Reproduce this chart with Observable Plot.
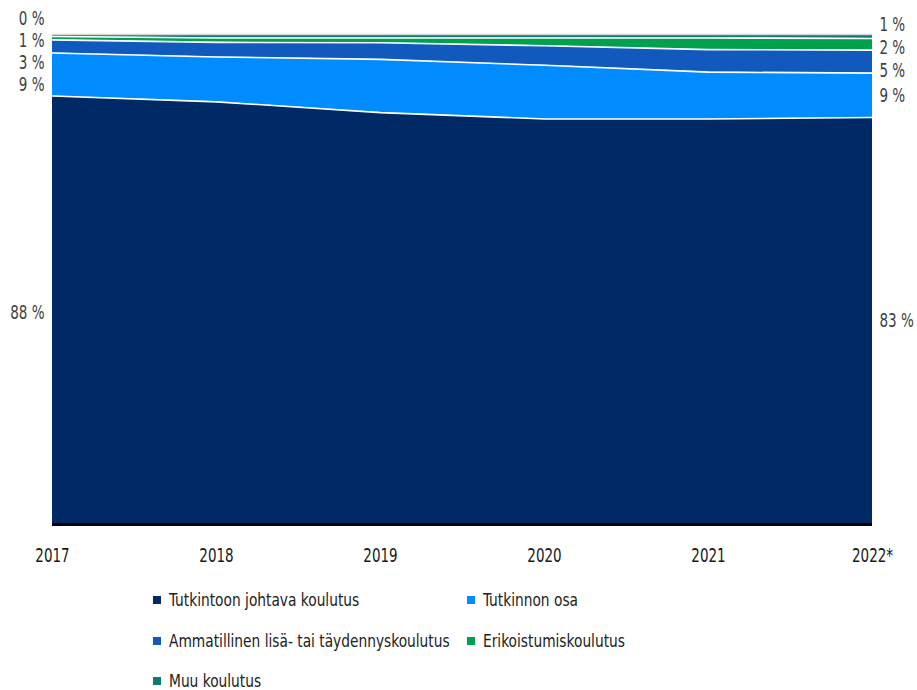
<!DOCTYPE html>
<html>
<head>
<meta charset="utf-8">
<script src="https://cdn.jsdelivr.net/npm/d3@7"></script>
<script src="https://cdn.jsdelivr.net/npm/@observablehq/plot@0.6"></script>
<style>
  body { margin: 0; background: #fff; }
  #chart { width: 917px; font-family: "DejaVu Sans Condensed", "DejaVu Sans", sans-serif; font-stretch: condensed; }
  #chart svg, #chart svg text { font-stretch: condensed; }
  .legend { display: grid; grid-template-columns: 314px auto; grid-auto-rows: 40.5px; margin-left: 153px; padding-top: 5px; }
  .legend .item { display: flex; align-items: center; font-size: 18px; line-height: 16px; color: #222; white-space: nowrap; }
  .legend .sw { width: 8px; height: 8px; margin-right: 8px; flex: none; }
  .legend .txt { display: inline-block; transform: scaleX(0.85); transform-origin: left center; }
</style>
</head>
<body>
<div id="chart"></div>
<script>
// Years on the x axis (2022 is a preliminary figure)
const years = ["2017", "2018", "2019", "2020", "2021", "2022*"];

// Training types, bottom of the stack first
const series = [
  "Tutkintoon johtava koulutus",
  "Tutkinnon osa",
  "Ammatillinen lisä- tai täydennyskoulutus",
  "Erikoistumiskoulutus",
  "Muu koulutus"
];
const colors = ["#002966", "#008cff", "#1259bd", "#00a04c", "#0e7a74"];

// Shares of students per year, %
const tutkintoonJohtava = [87.6, 86.4, 84.2, 82.9, 82.9, 83.2];
const tutkinnonOsa      = [8.8, 9.2, 10.9, 11.0, 9.6, 9.1];
const ammatillinenLisa  = [2.7, 3.0, 3.4, 4.0, 4.6, 4.7];
const erikoistuminen    = [0.7, 0.9, 1.0, 1.6, 2.4, 2.4];
const muuKoulutus       = [0.2, 0.5, 0.5, 0.5, 0.5, 0.6];

const values = [tutkintoonJohtava, tutkinnonOsa, ammatillinenLisa, erikoistuminen, muuKoulutus];

const data = [];
series.forEach((s, i) => years.forEach((y, j) => data.push({year: y, series: s, value: values[i][j]})));

const width = 917, height = 575;
const marginTop = 35, marginBottom = 52, marginLeft = 52, marginRight = 45;
const plotHeight = height - marginTop - marginBottom;

// End labels: centred on each band, then spread apart so they don't overlap
function endLabels(j, gapPx) {
  const gap = gapPx * 100 / plotHeight;
  let base = 0;
  const items = series.map((s, i) => {
    const v = values[i][j];
    const d = {year: years[j], series: s, mid: base + v / 2, label: Math.round(v) + " %"};
    base += v;
    return d;
  });
  const sorted = items.slice().sort((a, b) => b.mid - a.mid);
  let clusters = sorted.map(d => ({members: [d], center: d.mid}));
  let merged = true;
  while (merged) {
    merged = false;
    for (let i = 0; i < clusters.length - 1; i++) {
      const a = clusters[i], b = clusters[i + 1];
      const aLow = a.center - (a.members.length - 1) * gap / 2;
      const bHigh = b.center + (b.members.length - 1) * gap / 2;
      if (aLow - bHigh < gap) {
        const members = a.members.concat(b.members);
        clusters.splice(i, 2, {members, center: d3.mean(members, m => m.mid)});
        merged = true;
        break;
      }
    }
  }
  clusters.forEach(c => c.members.forEach((m, k) => {
    m.ly = c.center + ((c.members.length - 1) / 2 - k) * gap;
  }));
  return items;
}

const leftLabels = endLabels(0, 22);
const rightLabels = endLabels(years.length - 1, 23);
const topSeries = series[series.length - 1];

const chart = Plot.plot({
  width, height, marginTop, marginBottom, marginLeft, marginRight,
  style: {fontFamily: "'DejaVu Sans Condensed', 'DejaVu Sans', sans-serif", fontStretch: "condensed", fontSize: "20px", color: "#1a1a1a"},
  x: {type: "point", domain: years, padding: 0, label: null, tickSize: 0, tickPadding: 24},
  y: {domain: [0, 100], axis: null},
  color: {domain: series, range: colors},
  marks: [
    Plot.areaY(data, {x: "year", y: "value", z: "series", fill: "series"}),
    // white separators between adjacent bands
    Plot.lineY(data, Plot.stackY2({x: "year", y: "value", z: "series", filter: d => d.series !== topSeries, stroke: "white", strokeWidth: 1.6})),
    Plot.ruleY([100], {stroke: "#d6d6d6", strokeWidth: 1.5, dy: -1}),
    Plot.ruleY([0], {stroke: "#000", strokeWidth: 3, dy: 1}),
    Plot.text(leftLabels, {x: "year", y: "ly", text: "label", textAnchor: "end", dx: -8, dy: 3, fill: "#404040", fontSize: 20}),
    Plot.text(rightLabels, {x: "year", y: "ly", text: "label", textAnchor: "start", dx: 7, fill: "#404040", fontSize: 20})
  ]
});

const root = document.getElementById("chart");
root.appendChild(chart);

// Narrow the chart's type horizontally to a condensed face
chart.querySelectorAll("text").forEach(t => {
  const w = t.getComputedTextLength();
  t.setAttribute("textLength", (w * 0.75).toFixed(1));
  t.setAttribute("lengthAdjust", "spacingAndGlyphs");
});

// Legend below the plot, two columns
const legend = document.createElement("div");
legend.className = "legend";
series.forEach((s, i) => {
  const item = document.createElement("div");
  item.className = "item";
  const sw = document.createElement("span");
  sw.className = "sw";
  sw.style.background = colors[i];
  const txt = document.createElement("span");
  txt.className = "txt";
  txt.textContent = s;
  item.appendChild(sw);
  item.appendChild(txt);
  legend.appendChild(item);
});
root.appendChild(legend);
</script>
</body>
</html>
